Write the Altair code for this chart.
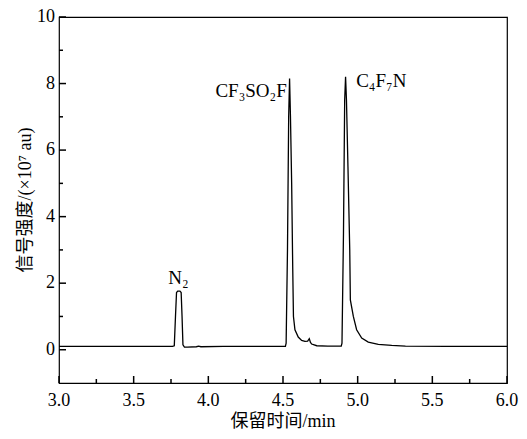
import altair as alt
import pandas as pd

# chromatogram trace (retention time in min, signal in 1e7 au)
time = [3.00, 3.50, 3.760, 3.772, 3.780, 3.787, 3.795, 3.810, 3.818, 3.824, 3.830, 3.840,
        3.860, 3.920, 3.935, 3.950, 4.100, 4.300, 4.516, 4.521, 4.530, 4.538, 4.544, 4.550,
        4.558, 4.565, 4.570, 4.580, 4.602, 4.625, 4.647, 4.665, 4.676, 4.684, 4.692, 4.726,
        4.800, 4.890, 4.895, 4.905, 4.913, 4.919, 4.925, 4.935, 4.947, 4.951, 4.971, 4.993,
        5.027, 5.071, 5.138, 5.228, 5.320, 5.600, 6.00]
signal = [0.10, 0.10, 0.10, 0.12, 1.00, 1.72, 1.76, 1.76, 1.72, 1.00, 0.15, 0.08,
          0.08, 0.09, 0.11, 0.09, 0.10, 0.10, 0.10, 0.20, 3.00, 7.00, 8.15, 7.00,
          5.00, 2.50, 1.00, 0.60, 0.38, 0.28, 0.25, 0.26, 0.33, 0.22, 0.17, 0.12,
          0.11, 0.11, 0.20, 3.50, 7.50, 8.20, 7.50, 5.50, 3.00, 1.50, 1.00, 0.60,
          0.35, 0.23, 0.16, 0.13, 0.11, 0.10, 0.10]

x_major = [3.0, 3.5, 4.0, 4.5, 5.0, 5.5, 6.0]
x_labels = ["3.0", "3.5", "4.0", "4.5", "5.0", "5.5", "6.0"]
x_minor = [3.25, 3.75, 4.25, 4.75, 5.25, 5.75]
y_major = [0, 2, 4, 6, 8, 10]
y_labels = ["0", "2", "4", "6", "8", "10"]
y_minor = [1, 3, 5, 7, 9]
x_title = ["保留时间/min"]
y_title = ["信号强度/(×10⁷ au)"]

lab_center = ["N₂"]
lab_center_x = [3.80]
lab_center_y = [1.98]
lab_right = ["CF₃SO₂F"]
lab_right_x = [4.525]
lab_right_y = [7.6]
lab_left = ["C₄F₇N"]
lab_left_x = [4.99]
lab_left_y = [7.9]

FONT = "Liberation Serif, Noto Sans CJK SC"
FS = 18
W, H = 448, 366
MAJ, MIN = 7, 4

df = pd.DataFrame({"t": time, "s": signal})
xs = alt.Scale(domain=[3, 6], nice=False, zero=False)
ys = alt.Scale(domain=[-1, 10], nice=False, zero=False)

line = alt.Chart(df).mark_line(color="black", strokeWidth=1.3).encode(
    x=alt.X("t:Q", scale=xs, axis=None),
    y=alt.Y("s:Q", scale=ys, axis=None),
    order=alt.Order("t:Q"),
)


def xticks(vals, size, name):
    d = pd.DataFrame({name: vals})
    return alt.Chart(d).mark_rule(color="#000000", strokeWidth=1.5, opacity=1).encode(
        x=alt.X(f"{name}:Q", scale=xs, axis=None),
        y=alt.value(H), y2=alt.value(H - size),
    )


def yticks(vals, size, name):
    d = pd.DataFrame({name: vals})
    return alt.Chart(d).mark_rule(color="#000000", strokeWidth=1.5, opacity=1).encode(
        y=alt.Y(f"{name}:Q", scale=ys, axis=None),
        x=alt.value(0), x2=alt.value(size),
    )


x_tick_labels = alt.Chart(pd.DataFrame({"xl": x_major, "lab": x_labels})).mark_text(
    align="center", baseline="top", font=FONT, fontSize=FS, color="black"
).encode(x=alt.X("xl:Q", scale=xs, axis=None), y=alt.value(H + 9), text="lab:N")

y_tick_labels = alt.Chart(pd.DataFrame({"yl": y_major, "lab": y_labels})).mark_text(
    align="right", baseline="middle", font=FONT, fontSize=FS, color="black"
).encode(y=alt.Y("yl:Q", scale=ys, axis=None), x=alt.value(-4), text="lab:N")

x_title_mark = alt.Chart(pd.DataFrame({"lab": x_title})).mark_text(
    align="center", baseline="middle", font=FONT, fontSize=FS, color="black"
).encode(x=alt.value(W / 2), y=alt.value(H + 39), text="lab:N")

y_title_mark = alt.Chart(pd.DataFrame({"lab": y_title})).mark_text(
    align="center", baseline="middle", angle=270, font=FONT, fontSize=FS, color="black"
).encode(x=alt.value(-33), y=alt.value(H / 2), text="lab:N")


def text_layer(labels, xv, yv, align):
    d = pd.DataFrame({"x": xv, "y": yv, "lab": labels})
    return alt.Chart(d).mark_text(
        align=align, baseline="alphabetic", font=FONT, fontSize=FS + 1, color="black"
    ).encode(
        x=alt.X("x:Q", scale=xs, axis=None),
        y=alt.Y("y:Q", scale=ys, axis=None),
        text="lab:N",
    )


chart = alt.layer(
    line,
    x_tick_labels, y_tick_labels, x_title_mark, y_title_mark,
    text_layer(lab_center, lab_center_x, lab_center_y, "center"),
    text_layer(lab_right, lab_right_x, lab_right_y, "right"),
    text_layer(lab_left, lab_left_x, lab_left_y, "left"),
    xticks(x_major, MAJ, "xmaj"), xticks(x_minor, MIN, "xmin"),
    yticks(y_major, MAJ, "ymaj"), yticks(y_minor, MIN, "ymin"),
).properties(
    width=W, height=H,
    autosize=alt.AutoSizeParams(type="none"),
    padding={"left": 51, "top": 9, "right": 12, "bottom": 48},
    background="white",
).configure_view(stroke="black", strokeWidth=1.2)

chart.save("out.html", embed_options={"renderer": "svg", "actions": False})
